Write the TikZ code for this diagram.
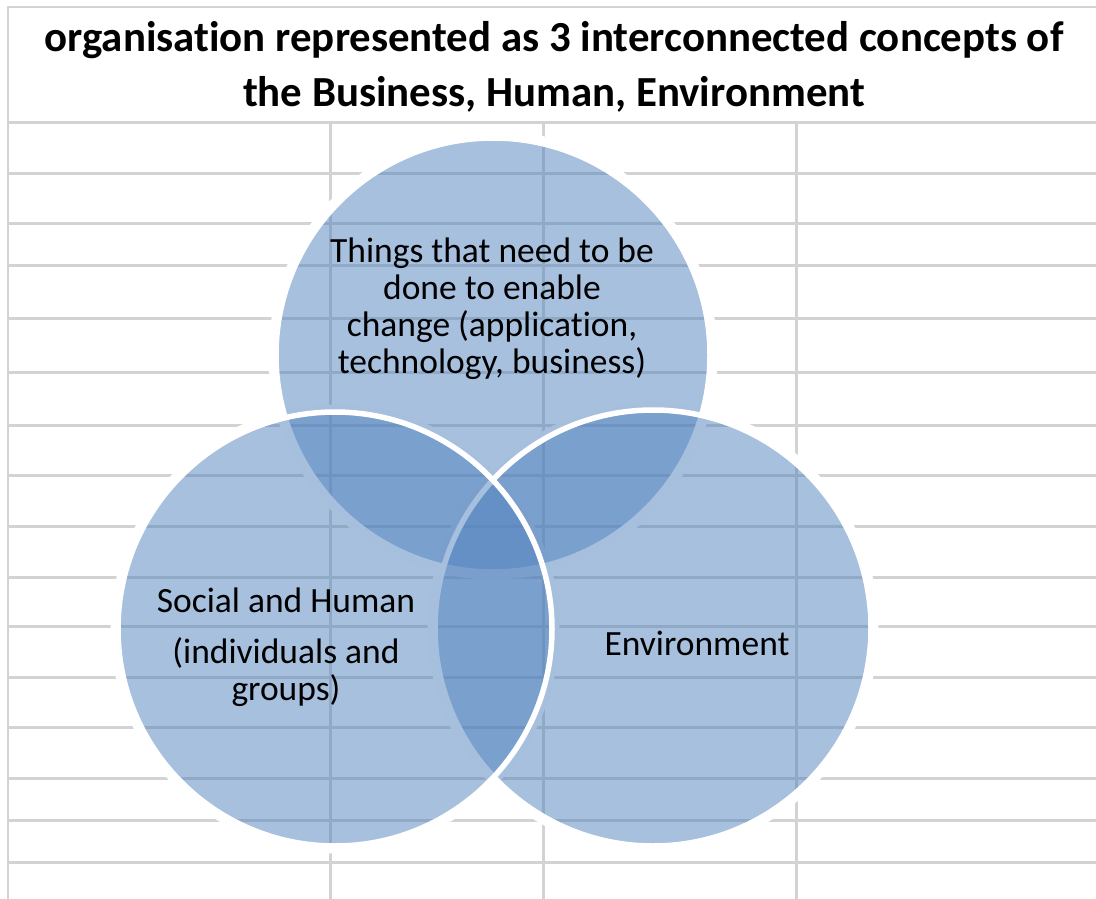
\documentclass[tikz,border=0pt]{standalone}
\usepackage{fontspec}
\setmainfont{Carlito}[Ligatures=NoCommon]
\usepackage{tikz}

\definecolor{accent}{HTML}{4F81BD}
\definecolor{gridgray}{HTML}{D3D3D3}

\begin{document}
\begin{tikzpicture}[x=0.02cm, y=-0.02cm,
  gridline/.style={draw=gridgray, line width=0.06cm},
  halo/.style={draw=white, line width=0.14cm},
  venn/.style={fill=accent, fill opacity=0.5, draw=white, line width=0.11cm},
  vennlabel/.style={align=center, anchor=base, font=\fontsize{20.2}{21}\selectfont}]
\useasboundingbox (0,0) rectangle (1096,899);
\draw [gridline] (1096,7) -- (8,7) -- (8,899);
\foreach \y in {122,173,223,265,318,372,425,475,526,577,626,677,727,778,820,862}
  \draw [gridline] (8,\y) -- (1096,\y);
\foreach \x in {330,543,796}
  \draw [gridline] (\x,122) -- (\x,899);
\node [anchor=base, align=center, font=\bfseries\fontsize{24.4}{31.2}\selectfont] (title) at (554,106)
  {organisation represented as 3 interconnected concepts of\\the Business, Human, Environment};
\coordinate (business) at (493,355);
\coordinate (environment) at (653,628);
\coordinate (human) at (335,629);
\draw [halo] (business) circle (221);
\draw [halo] (environment) circle (222);
\draw [halo] (human) circle (221);
\filldraw [venn] (business) circle (217);
\filldraw [venn] (environment) circle (218);
\filldraw [venn] (human) circle (217);
\node [vennlabel] (businesstext) at (492,373)
  {Things that need to be\\done to enable\\change (application,\\technology, business)};
\node [vennlabel] (humantext) at (286,700)
  {Social and Human\\[0.28cm](individuals and\\groups)};
\node [vennlabel] (environmenttext) at (697,655) {Environment};
\end{tikzpicture}
\end{document}
